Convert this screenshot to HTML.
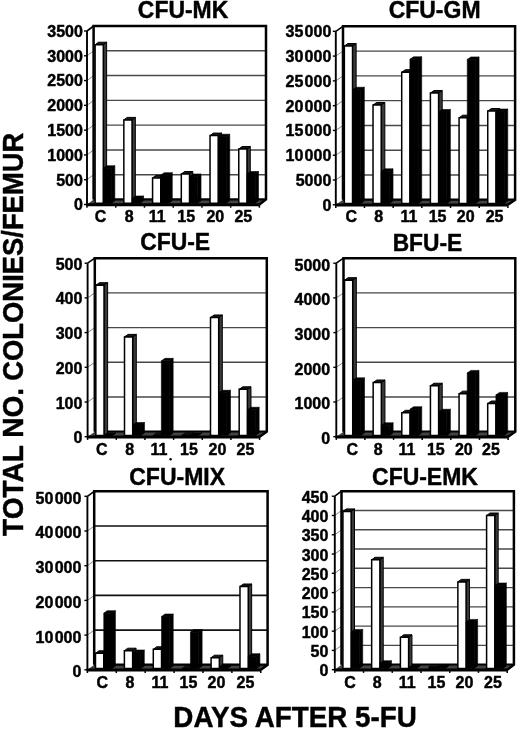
<!DOCTYPE html>
<html><head><meta charset="utf-8"><title>Figure</title>
<style>html,body{margin:0;padding:0;background:#fff;width:520px;height:729px;overflow:hidden}svg{display:block}</style>
</head><body>
<svg width="520" height="729" viewBox="0 0 520 729">
<style>
text{font-family:"Liberation Sans", Arial, Helvetica, sans-serif;font-weight:bold;fill:#000;stroke:#000;stroke-width:0.45px;stroke-linejoin:round}
.t{font-size:24px}
.l{font-size:16px}
.ax{font-size:29.3px}
</style>
<rect width="520" height="729" fill="#fff"/>
<g><text x="137.86" y="18.4" textLength="90.35" lengthAdjust="spacingAndGlyphs" class="t">CFU-MK</text><rect x="93.6" y="26" width="172.4" height="173.5" fill="#fff"/><line x1="93.6" y1="174.71" x2="266" y2="174.71" stroke="#484848" stroke-width="1.4"/><line x1="87" y1="179.71" x2="93.6" y2="174.71" stroke="#555" stroke-width="0.7"/><line x1="93.6" y1="149.93" x2="266" y2="149.93" stroke="#484848" stroke-width="1.4"/><line x1="87" y1="154.93" x2="93.6" y2="149.93" stroke="#555" stroke-width="0.7"/><line x1="93.6" y1="125.14" x2="266" y2="125.14" stroke="#484848" stroke-width="1.4"/><line x1="87" y1="130.14" x2="93.6" y2="125.14" stroke="#555" stroke-width="0.7"/><line x1="93.6" y1="100.36" x2="266" y2="100.36" stroke="#484848" stroke-width="1.4"/><line x1="87" y1="105.36" x2="93.6" y2="100.36" stroke="#555" stroke-width="0.7"/><line x1="93.6" y1="75.57" x2="266" y2="75.57" stroke="#484848" stroke-width="1.4"/><line x1="87" y1="80.57" x2="93.6" y2="75.57" stroke="#555" stroke-width="0.7"/><line x1="93.6" y1="50.79" x2="266" y2="50.79" stroke="#484848" stroke-width="1.4"/><line x1="87" y1="55.79" x2="93.6" y2="50.79" stroke="#555" stroke-width="0.7"/><line x1="87" y1="204.5" x2="87" y2="31" stroke="#000" stroke-width="1.9"/><line x1="87" y1="31" x2="93.6" y2="26" stroke="#000" stroke-width="1.6"/><polygon points="87,204.5 259.4,204.5 266,199.5 93.6,199.5" fill="#444"/><line x1="93.6" y1="199.3" x2="266" y2="199.3" stroke="#000" stroke-width="2.2"/><path d="M93.6,199.5 V26 H266 V199.5 L259.4,204.5" fill="none" stroke="#000" stroke-width="2.5" stroke-linejoin="miter"/><polygon points="103.32,203.25 106.62,200.75 106.62,42.22 103.32,44.72" fill="#3a3a3a" stroke="#000" stroke-width="1" stroke-linejoin="round"/><polygon points="95.11,44.72 103.32,44.72 106.62,42.22 98.41,42.22" fill="#181818" stroke="#000" stroke-width="1" stroke-linejoin="round"/><polygon points="95.11,203.25 103.32,203.25 103.32,44.72 95.11,44.72" fill="#fff" stroke="#000" stroke-width="1.5"/><polygon points="111.53,203.25 114.83,200.75 114.83,165.7 111.53,168.2" fill="#000" stroke="#000" stroke-width="0.6"/><polygon points="103.32,168.2 111.53,168.2 114.83,165.7 106.62,165.7" fill="#000" stroke="#000" stroke-width="0.6"/><polygon points="103.32,203.25 111.53,203.25 111.53,168.2 103.32,168.2" fill="#000" stroke="#000" stroke-width="0.6"/><polygon points="132.05,203.25 135.35,200.75 135.35,117.42 132.05,119.92" fill="#3a3a3a" stroke="#000" stroke-width="1" stroke-linejoin="round"/><polygon points="123.84,119.92 132.05,119.92 135.35,117.42 127.14,117.42" fill="#181818" stroke="#000" stroke-width="1" stroke-linejoin="round"/><polygon points="123.84,203.25 132.05,203.25 132.05,119.92 123.84,119.92" fill="#fff" stroke="#000" stroke-width="1.5"/><polygon points="140.26,203.25 143.56,200.75 143.56,195.99 140.26,198.49" fill="#000" stroke="#000" stroke-width="0.6"/><polygon points="132.05,198.49 140.26,198.49 143.56,195.99 135.35,195.99" fill="#000" stroke="#000" stroke-width="0.6"/><polygon points="132.05,203.25 140.26,203.25 140.26,198.49 132.05,198.49" fill="#000" stroke="#000" stroke-width="0.6"/><polygon points="160.78,203.25 164.08,200.75 164.08,175.42 160.78,177.92" fill="#3a3a3a" stroke="#000" stroke-width="1" stroke-linejoin="round"/><polygon points="152.57,177.92 160.78,177.92 164.08,175.42 155.87,175.42" fill="#181818" stroke="#000" stroke-width="1" stroke-linejoin="round"/><polygon points="152.57,203.25 160.78,203.25 160.78,177.92 152.57,177.92" fill="#fff" stroke="#000" stroke-width="1.5"/><polygon points="168.99,203.25 172.29,200.75 172.29,172.69 168.99,175.19" fill="#000" stroke="#000" stroke-width="0.6"/><polygon points="160.78,175.19 168.99,175.19 172.29,172.69 164.08,172.69" fill="#000" stroke="#000" stroke-width="0.6"/><polygon points="160.78,203.25 168.99,203.25 168.99,175.19 160.78,175.19" fill="#000" stroke="#000" stroke-width="0.6"/><polygon points="189.52,203.25 192.82,200.75 192.82,171.5 189.52,174" fill="#3a3a3a" stroke="#000" stroke-width="1" stroke-linejoin="round"/><polygon points="181.31,174 189.52,174 192.82,171.5 184.61,171.5" fill="#181818" stroke="#000" stroke-width="1" stroke-linejoin="round"/><polygon points="181.31,203.25 189.52,203.25 189.52,174 181.31,174" fill="#fff" stroke="#000" stroke-width="1.5"/><polygon points="197.73,203.25 201.03,200.75 201.03,173.98 197.73,176.48" fill="#000" stroke="#000" stroke-width="0.6"/><polygon points="189.52,176.48 197.73,176.48 201.03,173.98 192.82,173.98" fill="#000" stroke="#000" stroke-width="0.6"/><polygon points="189.52,203.25 197.73,203.25 197.73,176.48 189.52,176.48" fill="#000" stroke="#000" stroke-width="0.6"/><polygon points="218.25,203.25 221.55,200.75 221.55,133.08 218.25,135.58" fill="#3a3a3a" stroke="#000" stroke-width="1" stroke-linejoin="round"/><polygon points="210.04,135.58 218.25,135.58 221.55,133.08 213.34,133.08" fill="#181818" stroke="#000" stroke-width="1" stroke-linejoin="round"/><polygon points="210.04,203.25 218.25,203.25 218.25,135.58 210.04,135.58" fill="#fff" stroke="#000" stroke-width="1.5"/><polygon points="226.46,203.25 229.76,200.75 229.76,134.23 226.46,136.73" fill="#000" stroke="#000" stroke-width="0.6"/><polygon points="218.25,136.73 226.46,136.73 229.76,134.23 221.55,134.23" fill="#000" stroke="#000" stroke-width="0.6"/><polygon points="218.25,203.25 226.46,203.25 226.46,136.73 218.25,136.73" fill="#000" stroke="#000" stroke-width="0.6"/><polygon points="246.98,203.25 250.28,200.75 250.28,146.52 246.98,149.02" fill="#3a3a3a" stroke="#000" stroke-width="1" stroke-linejoin="round"/><polygon points="238.77,149.02 246.98,149.02 250.28,146.52 242.07,146.52" fill="#181818" stroke="#000" stroke-width="1" stroke-linejoin="round"/><polygon points="238.77,203.25 246.98,203.25 246.98,149.02 238.77,149.02" fill="#fff" stroke="#000" stroke-width="1.5"/><polygon points="255.19,203.25 258.49,200.75 258.49,171.5 255.19,174" fill="#000" stroke="#000" stroke-width="0.6"/><polygon points="246.98,174 255.19,174 258.49,171.5 250.28,171.5" fill="#000" stroke="#000" stroke-width="0.6"/><polygon points="246.98,203.25 255.19,203.25 255.19,174 246.98,174" fill="#000" stroke="#000" stroke-width="0.6"/><line x1="86.2" y1="204.7" x2="259.4" y2="204.7" stroke="#000" stroke-width="3.0"/><line x1="87" y1="204.5" x2="87" y2="207.7" stroke="#000" stroke-width="1.5"/><line x1="115.73" y1="204.5" x2="115.73" y2="207.7" stroke="#000" stroke-width="1.5"/><line x1="144.47" y1="204.5" x2="144.47" y2="207.7" stroke="#000" stroke-width="1.5"/><line x1="173.2" y1="204.5" x2="173.2" y2="207.7" stroke="#000" stroke-width="1.5"/><line x1="201.93" y1="204.5" x2="201.93" y2="207.7" stroke="#000" stroke-width="1.5"/><line x1="230.67" y1="204.5" x2="230.67" y2="207.7" stroke="#000" stroke-width="1.5"/><line x1="259.4" y1="204.5" x2="259.4" y2="207.7" stroke="#000" stroke-width="1.5"/><line x1="84" y1="204.5" x2="87" y2="204.5" stroke="#000" stroke-width="1.4"/><text x="82.9" y="210.3" text-anchor="end" class="l">0</text><line x1="84" y1="179.71" x2="87" y2="179.71" stroke="#000" stroke-width="1.4"/><text x="82.9" y="185.51" text-anchor="end" class="l">500</text><line x1="84" y1="154.93" x2="87" y2="154.93" stroke="#000" stroke-width="1.4"/><text x="82.9" y="160.73" text-anchor="end" class="l">1000</text><line x1="84" y1="130.14" x2="87" y2="130.14" stroke="#000" stroke-width="1.4"/><text x="82.9" y="135.94" text-anchor="end" class="l">1500</text><line x1="84" y1="105.36" x2="87" y2="105.36" stroke="#000" stroke-width="1.4"/><text x="82.9" y="111.16" text-anchor="end" class="l">2000</text><line x1="84" y1="80.57" x2="87" y2="80.57" stroke="#000" stroke-width="1.4"/><text x="82.9" y="86.37" text-anchor="end" class="l">2500</text><line x1="84" y1="55.79" x2="87" y2="55.79" stroke="#000" stroke-width="1.4"/><text x="82.9" y="61.59" text-anchor="end" class="l">3000</text><line x1="84" y1="31" x2="87" y2="31" stroke="#000" stroke-width="1.4"/><text x="82.9" y="36.8" text-anchor="end" class="l">3500</text><text x="100.5" y="222.3" text-anchor="middle" class="l">C</text><text x="129.1" y="222.3" text-anchor="middle" class="l">8</text><text x="157.3" y="222.3" text-anchor="middle" class="l">11</text><text x="186.2" y="222.3" text-anchor="middle" class="l">15</text><text x="215.3" y="222.3" text-anchor="middle" class="l">20</text><text x="243.3" y="222.3" text-anchor="middle" class="l">25</text></g><g><text x="388.66" y="18.4" textLength="91.88" lengthAdjust="spacingAndGlyphs" class="t">CFU-GM</text><rect x="343" y="26.3" width="172.1" height="173.5" fill="#fff"/><line x1="343" y1="175.01" x2="515.1" y2="175.01" stroke="#484848" stroke-width="1.4"/><line x1="335.8" y1="180.01" x2="343" y2="175.01" stroke="#555" stroke-width="0.7"/><line x1="343" y1="150.23" x2="515.1" y2="150.23" stroke="#484848" stroke-width="1.4"/><line x1="335.8" y1="155.23" x2="343" y2="150.23" stroke="#555" stroke-width="0.7"/><line x1="343" y1="125.44" x2="515.1" y2="125.44" stroke="#484848" stroke-width="1.4"/><line x1="335.8" y1="130.44" x2="343" y2="125.44" stroke="#555" stroke-width="0.7"/><line x1="343" y1="100.66" x2="515.1" y2="100.66" stroke="#484848" stroke-width="1.4"/><line x1="335.8" y1="105.66" x2="343" y2="100.66" stroke="#555" stroke-width="0.7"/><line x1="343" y1="75.87" x2="515.1" y2="75.87" stroke="#484848" stroke-width="1.4"/><line x1="335.8" y1="80.87" x2="343" y2="75.87" stroke="#555" stroke-width="0.7"/><line x1="343" y1="51.09" x2="515.1" y2="51.09" stroke="#484848" stroke-width="1.4"/><line x1="335.8" y1="56.09" x2="343" y2="51.09" stroke="#555" stroke-width="0.7"/><line x1="335.8" y1="204.8" x2="335.8" y2="31.3" stroke="#000" stroke-width="1.9"/><line x1="335.8" y1="31.3" x2="343" y2="26.3" stroke="#000" stroke-width="1.6"/><polygon points="335.8,204.8 507.9,204.8 515.1,199.8 343,199.8" fill="#444"/><line x1="343" y1="199.6" x2="515.1" y2="199.6" stroke="#000" stroke-width="2.2"/><path d="M343,199.8 V26.3 H515.1 V199.8 L507.9,204.8" fill="none" stroke="#000" stroke-width="2.5" stroke-linejoin="miter"/><polygon points="352.54,203.55 356.14,201.05 356.14,43.51 352.54,46.01" fill="#3a3a3a" stroke="#000" stroke-width="1" stroke-linejoin="round"/><polygon points="344.35,46.01 352.54,46.01 356.14,43.51 347.95,43.51" fill="#181818" stroke="#000" stroke-width="1" stroke-linejoin="round"/><polygon points="344.35,203.55 352.54,203.55 352.54,46.01 344.35,46.01" fill="#fff" stroke="#000" stroke-width="1.5"/><polygon points="360.74,203.55 364.34,201.05 364.34,87.28 360.74,89.78" fill="#000" stroke="#000" stroke-width="0.6"/><polygon points="352.54,89.78 360.74,89.78 364.34,87.28 356.14,87.28" fill="#000" stroke="#000" stroke-width="0.6"/><polygon points="352.54,203.55 360.74,203.55 360.74,89.78 352.54,89.78" fill="#000" stroke="#000" stroke-width="0.6"/><polygon points="381.23,203.55 384.83,201.05 384.83,102.5 381.23,105" fill="#3a3a3a" stroke="#000" stroke-width="1" stroke-linejoin="round"/><polygon points="373.03,105 381.23,105 384.83,102.5 376.63,102.5" fill="#181818" stroke="#000" stroke-width="1" stroke-linejoin="round"/><polygon points="373.03,203.55 381.23,203.55 381.23,105 373.03,105" fill="#fff" stroke="#000" stroke-width="1.5"/><polygon points="389.42,203.55 393.02,201.05 393.02,168.83 389.42,171.33" fill="#000" stroke="#000" stroke-width="0.6"/><polygon points="381.23,171.33 389.42,171.33 393.02,168.83 384.83,168.83" fill="#000" stroke="#000" stroke-width="0.6"/><polygon points="381.23,203.55 389.42,203.55 389.42,171.33 381.23,171.33" fill="#000" stroke="#000" stroke-width="0.6"/><polygon points="409.91,203.55 413.51,201.05 413.51,69.69 409.91,72.19" fill="#3a3a3a" stroke="#000" stroke-width="1" stroke-linejoin="round"/><polygon points="401.71,72.19 409.91,72.19 413.51,69.69 405.31,69.69" fill="#181818" stroke="#000" stroke-width="1" stroke-linejoin="round"/><polygon points="401.71,203.55 409.91,203.55 409.91,72.19 401.71,72.19" fill="#fff" stroke="#000" stroke-width="1.5"/><polygon points="418.1,203.55 421.7,201.05 421.7,56.8 418.1,59.3" fill="#000" stroke="#000" stroke-width="0.6"/><polygon points="409.91,59.3 418.1,59.3 421.7,56.8 413.51,56.8" fill="#000" stroke="#000" stroke-width="0.6"/><polygon points="409.91,203.55 418.1,203.55 418.1,59.3 409.91,59.3" fill="#000" stroke="#000" stroke-width="0.6"/><polygon points="438.59,203.55 442.19,201.05 442.19,90.51 438.59,93.01" fill="#3a3a3a" stroke="#000" stroke-width="1" stroke-linejoin="round"/><polygon points="430.4,93.01 438.59,93.01 442.19,90.51 434,90.51" fill="#181818" stroke="#000" stroke-width="1" stroke-linejoin="round"/><polygon points="430.4,203.55 438.59,203.55 438.59,93.01 430.4,93.01" fill="#fff" stroke="#000" stroke-width="1.5"/><polygon points="446.79,203.55 450.39,201.05 450.39,109.49 446.79,111.99" fill="#000" stroke="#000" stroke-width="0.6"/><polygon points="438.59,111.99 446.79,111.99 450.39,109.49 442.19,109.49" fill="#000" stroke="#000" stroke-width="0.6"/><polygon points="438.59,203.55 446.79,203.55 446.79,111.99 438.59,111.99" fill="#000" stroke="#000" stroke-width="0.6"/><polygon points="467.28,203.55 470.88,201.05 470.88,115.19 467.28,117.69" fill="#3a3a3a" stroke="#000" stroke-width="1" stroke-linejoin="round"/><polygon points="459.08,117.69 467.28,117.69 470.88,115.19 462.68,115.19" fill="#181818" stroke="#000" stroke-width="1" stroke-linejoin="round"/><polygon points="459.08,203.55 467.28,203.55 467.28,117.69 459.08,117.69" fill="#fff" stroke="#000" stroke-width="1.5"/><polygon points="475.47,203.55 479.07,201.05 479.07,56.95 475.47,59.45" fill="#000" stroke="#000" stroke-width="0.6"/><polygon points="467.28,59.45 475.47,59.45 479.07,56.95 470.88,56.95" fill="#000" stroke="#000" stroke-width="0.6"/><polygon points="467.28,203.55 475.47,203.55 475.47,59.45 467.28,59.45" fill="#000" stroke="#000" stroke-width="0.6"/><polygon points="495.96,203.55 499.56,201.05 499.56,108.5 495.96,111" fill="#3a3a3a" stroke="#000" stroke-width="1" stroke-linejoin="round"/><polygon points="487.76,111 495.96,111 499.56,108.5 491.36,108.5" fill="#181818" stroke="#000" stroke-width="1" stroke-linejoin="round"/><polygon points="487.76,203.55 495.96,203.55 495.96,111 487.76,111" fill="#fff" stroke="#000" stroke-width="1.5"/><polygon points="504.15,203.55 507.75,201.05 507.75,109 504.15,111.5" fill="#000" stroke="#000" stroke-width="0.6"/><polygon points="495.96,111.5 504.15,111.5 507.75,109 499.56,109" fill="#000" stroke="#000" stroke-width="0.6"/><polygon points="495.96,203.55 504.15,203.55 504.15,111.5 495.96,111.5" fill="#000" stroke="#000" stroke-width="0.6"/><line x1="335" y1="205" x2="507.9" y2="205" stroke="#000" stroke-width="3.0"/><line x1="335.8" y1="204.8" x2="335.8" y2="208" stroke="#000" stroke-width="1.5"/><line x1="364.48" y1="204.8" x2="364.48" y2="208" stroke="#000" stroke-width="1.5"/><line x1="393.17" y1="204.8" x2="393.17" y2="208" stroke="#000" stroke-width="1.5"/><line x1="421.85" y1="204.8" x2="421.85" y2="208" stroke="#000" stroke-width="1.5"/><line x1="450.53" y1="204.8" x2="450.53" y2="208" stroke="#000" stroke-width="1.5"/><line x1="479.22" y1="204.8" x2="479.22" y2="208" stroke="#000" stroke-width="1.5"/><line x1="507.9" y1="204.8" x2="507.9" y2="208" stroke="#000" stroke-width="1.5"/><line x1="332.8" y1="204.8" x2="335.8" y2="204.8" stroke="#000" stroke-width="1.4"/><text x="331.3" y="210.75" text-anchor="end" class="l">0</text><line x1="332.8" y1="180.01" x2="335.8" y2="180.01" stroke="#000" stroke-width="1.4"/><text x="331.3" y="185.96" text-anchor="end" class="l">5000</text><line x1="332.8" y1="155.23" x2="335.8" y2="155.23" stroke="#000" stroke-width="1.4"/><text x="331.3" y="161.18" text-anchor="end" class="l">10<tspan dx="1.3">000</tspan></text><line x1="332.8" y1="130.44" x2="335.8" y2="130.44" stroke="#000" stroke-width="1.4"/><text x="331.3" y="136.39" text-anchor="end" class="l">15<tspan dx="1.3">000</tspan></text><line x1="332.8" y1="105.66" x2="335.8" y2="105.66" stroke="#000" stroke-width="1.4"/><text x="331.3" y="111.61" text-anchor="end" class="l">20<tspan dx="1.3">000</tspan></text><line x1="332.8" y1="80.87" x2="335.8" y2="80.87" stroke="#000" stroke-width="1.4"/><text x="331.3" y="86.82" text-anchor="end" class="l">25<tspan dx="1.3">000</tspan></text><line x1="332.8" y1="56.09" x2="335.8" y2="56.09" stroke="#000" stroke-width="1.4"/><text x="331.3" y="62.04" text-anchor="end" class="l">30<tspan dx="1.3">000</tspan></text><line x1="332.8" y1="31.3" x2="335.8" y2="31.3" stroke="#000" stroke-width="1.4"/><text x="331.3" y="37.25" text-anchor="end" class="l">35<tspan dx="1.3">000</tspan></text><text x="351.2" y="222" text-anchor="middle" class="l">C</text><text x="378.7" y="222" text-anchor="middle" class="l">8</text><text x="409" y="222" text-anchor="middle" class="l">11</text><text x="437.6" y="222" text-anchor="middle" class="l">15</text><text x="465.7" y="222" text-anchor="middle" class="l">20</text><text x="494.6" y="222" text-anchor="middle" class="l">25</text></g><g><text x="140.16" y="250.4" textLength="69.93" lengthAdjust="spacingAndGlyphs" class="t">CFU-E</text><rect x="94.8" y="258.2" width="172" height="173.5" fill="#fff"/><line x1="94.8" y1="397" x2="266.8" y2="397" stroke="#484848" stroke-width="1.4"/><line x1="87.6" y1="402" x2="94.8" y2="397" stroke="#555" stroke-width="0.7"/><line x1="94.8" y1="362.3" x2="266.8" y2="362.3" stroke="#484848" stroke-width="1.4"/><line x1="87.6" y1="367.3" x2="94.8" y2="362.3" stroke="#555" stroke-width="0.7"/><line x1="94.8" y1="327.6" x2="266.8" y2="327.6" stroke="#484848" stroke-width="1.4"/><line x1="87.6" y1="332.6" x2="94.8" y2="327.6" stroke="#555" stroke-width="0.7"/><line x1="94.8" y1="292.9" x2="266.8" y2="292.9" stroke="#484848" stroke-width="1.4"/><line x1="87.6" y1="297.9" x2="94.8" y2="292.9" stroke="#555" stroke-width="0.7"/><line x1="87.6" y1="436.7" x2="87.6" y2="263.2" stroke="#000" stroke-width="1.9"/><line x1="87.6" y1="263.2" x2="94.8" y2="258.2" stroke="#000" stroke-width="1.6"/><polygon points="87.6,436.7 259.6,436.7 266.8,431.7 94.8,431.7" fill="#444"/><line x1="94.8" y1="431.5" x2="266.8" y2="431.5" stroke="#000" stroke-width="2.2"/><path d="M94.8,431.7 V258.2 H266.8 V431.7 L259.6,436.7" fill="none" stroke="#000" stroke-width="2.5" stroke-linejoin="miter"/><polygon points="104.03,435.45 107.63,432.95 107.63,282.7 104.03,285.2" fill="#3a3a3a" stroke="#000" stroke-width="1" stroke-linejoin="round"/><polygon points="95.84,285.2 104.03,285.2 107.63,282.7 99.44,282.7" fill="#181818" stroke="#000" stroke-width="1" stroke-linejoin="round"/><polygon points="95.84,435.45 104.03,435.45 104.03,285.2 95.84,285.2" fill="#fff" stroke="#000" stroke-width="1.5"/><polygon points="112.22,435.45 115.82,432.95 115.82,432.95 112.22,435.45" fill="#000" stroke="#000" stroke-width="0.6"/><polygon points="104.03,435.45 112.22,435.45 115.82,432.95 107.63,432.95" fill="#000" stroke="#000" stroke-width="0.6"/><polygon points="104.03,435.45 112.22,435.45 112.22,435.45 104.03,435.45" fill="#000" stroke="#000" stroke-width="0.6"/><polygon points="132.7,435.45 136.3,432.95 136.3,334.4 132.7,336.9" fill="#3a3a3a" stroke="#000" stroke-width="1" stroke-linejoin="round"/><polygon points="124.51,336.9 132.7,336.9 136.3,334.4 128.11,334.4" fill="#181818" stroke="#000" stroke-width="1" stroke-linejoin="round"/><polygon points="124.51,435.45 132.7,435.45 132.7,336.9 124.51,336.9" fill="#fff" stroke="#000" stroke-width="1.5"/><polygon points="140.89,435.45 144.49,432.95 144.49,422.54 140.89,425.04" fill="#000" stroke="#000" stroke-width="0.6"/><polygon points="132.7,425.04 140.89,425.04 144.49,422.54 136.3,422.54" fill="#000" stroke="#000" stroke-width="0.6"/><polygon points="132.7,435.45 140.89,435.45 140.89,425.04 132.7,425.04" fill="#000" stroke="#000" stroke-width="0.6"/><polygon points="161.37,435.45 164.97,432.95 164.97,432.95 161.37,435.45" fill="#3a3a3a" stroke="#000" stroke-width="1" stroke-linejoin="round"/><polygon points="153.18,435.45 161.37,435.45 164.97,432.95 156.78,432.95" fill="#181818" stroke="#000" stroke-width="1" stroke-linejoin="round"/><polygon points="153.18,435.45 161.37,435.45 161.37,435.45 153.18,435.45" fill="#fff" stroke="#000" stroke-width="1.5"/><polygon points="169.56,435.45 173.16,432.95 173.16,358.35 169.56,360.85" fill="#000" stroke="#000" stroke-width="0.6"/><polygon points="161.37,360.85 169.56,360.85 173.16,358.35 164.97,358.35" fill="#000" stroke="#000" stroke-width="0.6"/><polygon points="161.37,435.45 169.56,435.45 169.56,360.85 161.37,360.85" fill="#000" stroke="#000" stroke-width="0.6"/><polygon points="190.03,435.45 193.63,432.95 193.63,432.95 190.03,435.45" fill="#3a3a3a" stroke="#000" stroke-width="1" stroke-linejoin="round"/><polygon points="181.84,435.45 190.03,435.45 193.63,432.95 185.44,432.95" fill="#181818" stroke="#000" stroke-width="1" stroke-linejoin="round"/><polygon points="181.84,435.45 190.03,435.45 190.03,435.45 181.84,435.45" fill="#fff" stroke="#000" stroke-width="1.5"/><polygon points="198.22,435.45 201.82,432.95 201.82,432.95 198.22,435.45" fill="#000" stroke="#000" stroke-width="0.6"/><polygon points="190.03,435.45 198.22,435.45 201.82,432.95 193.63,432.95" fill="#000" stroke="#000" stroke-width="0.6"/><polygon points="190.03,435.45 198.22,435.45 198.22,435.45 190.03,435.45" fill="#000" stroke="#000" stroke-width="0.6"/><polygon points="218.7,435.45 222.3,432.95 222.3,314.97 218.7,317.47" fill="#3a3a3a" stroke="#000" stroke-width="1" stroke-linejoin="round"/><polygon points="210.51,317.47 218.7,317.47 222.3,314.97 214.11,314.97" fill="#181818" stroke="#000" stroke-width="1" stroke-linejoin="round"/><polygon points="210.51,435.45 218.7,435.45 218.7,317.47 210.51,317.47" fill="#fff" stroke="#000" stroke-width="1.5"/><polygon points="226.89,435.45 230.49,432.95 230.49,390.27 226.89,392.77" fill="#000" stroke="#000" stroke-width="0.6"/><polygon points="218.7,392.77 226.89,392.77 230.49,390.27 222.3,390.27" fill="#000" stroke="#000" stroke-width="0.6"/><polygon points="218.7,435.45 226.89,435.45 226.89,392.77 218.7,392.77" fill="#000" stroke="#000" stroke-width="0.6"/><polygon points="247.37,435.45 250.97,432.95 250.97,386.8 247.37,389.3" fill="#3a3a3a" stroke="#000" stroke-width="1" stroke-linejoin="round"/><polygon points="239.18,389.3 247.37,389.3 250.97,386.8 242.78,386.8" fill="#181818" stroke="#000" stroke-width="1" stroke-linejoin="round"/><polygon points="239.18,435.45 247.37,435.45 247.37,389.3 239.18,389.3" fill="#fff" stroke="#000" stroke-width="1.5"/><polygon points="255.56,435.45 259.16,432.95 259.16,407.27 255.56,409.77" fill="#000" stroke="#000" stroke-width="0.6"/><polygon points="247.37,409.77 255.56,409.77 259.16,407.27 250.97,407.27" fill="#000" stroke="#000" stroke-width="0.6"/><polygon points="247.37,435.45 255.56,435.45 255.56,409.77 247.37,409.77" fill="#000" stroke="#000" stroke-width="0.6"/><line x1="86.8" y1="436.9" x2="259.6" y2="436.9" stroke="#000" stroke-width="3.0"/><line x1="87.6" y1="436.7" x2="87.6" y2="439.9" stroke="#000" stroke-width="1.5"/><line x1="116.27" y1="436.7" x2="116.27" y2="439.9" stroke="#000" stroke-width="1.5"/><line x1="144.93" y1="436.7" x2="144.93" y2="439.9" stroke="#000" stroke-width="1.5"/><line x1="173.6" y1="436.7" x2="173.6" y2="439.9" stroke="#000" stroke-width="1.5"/><line x1="202.27" y1="436.7" x2="202.27" y2="439.9" stroke="#000" stroke-width="1.5"/><line x1="230.93" y1="436.7" x2="230.93" y2="439.9" stroke="#000" stroke-width="1.5"/><line x1="259.6" y1="436.7" x2="259.6" y2="439.9" stroke="#000" stroke-width="1.5"/><line x1="84.6" y1="436.7" x2="87.6" y2="436.7" stroke="#000" stroke-width="1.4"/><text x="82.4" y="443.2" text-anchor="end" class="l">0</text><line x1="84.6" y1="402" x2="87.6" y2="402" stroke="#000" stroke-width="1.4"/><text x="82.4" y="408.5" text-anchor="end" class="l">100</text><line x1="84.6" y1="367.3" x2="87.6" y2="367.3" stroke="#000" stroke-width="1.4"/><text x="82.4" y="373.8" text-anchor="end" class="l">200</text><line x1="84.6" y1="332.6" x2="87.6" y2="332.6" stroke="#000" stroke-width="1.4"/><text x="82.4" y="339.1" text-anchor="end" class="l">300</text><line x1="84.6" y1="297.9" x2="87.6" y2="297.9" stroke="#000" stroke-width="1.4"/><text x="82.4" y="304.4" text-anchor="end" class="l">400</text><line x1="84.6" y1="263.2" x2="87.6" y2="263.2" stroke="#000" stroke-width="1.4"/><text x="82.4" y="269.7" text-anchor="end" class="l">500</text><text x="101.7" y="454.7" text-anchor="middle" class="l">C</text><text x="129.6" y="454.7" text-anchor="middle" class="l">8</text><text x="159" y="454.7" text-anchor="middle" class="l">11</text><text x="188.9" y="454.7" text-anchor="middle" class="l">15</text><text x="217.4" y="454.7" text-anchor="middle" class="l">20</text><text x="245.5" y="454.7" text-anchor="middle" class="l">25</text></g><g><text x="392.68" y="251" textLength="69.51" lengthAdjust="spacingAndGlyphs" class="t">BFU-E</text><rect x="343.5" y="258.2" width="171.8" height="173.5" fill="#fff"/><line x1="343.5" y1="397" x2="515.3" y2="397" stroke="#484848" stroke-width="1.4"/><line x1="336.3" y1="402" x2="343.5" y2="397" stroke="#555" stroke-width="0.7"/><line x1="343.5" y1="362.3" x2="515.3" y2="362.3" stroke="#484848" stroke-width="1.4"/><line x1="336.3" y1="367.3" x2="343.5" y2="362.3" stroke="#555" stroke-width="0.7"/><line x1="343.5" y1="327.6" x2="515.3" y2="327.6" stroke="#484848" stroke-width="1.4"/><line x1="336.3" y1="332.6" x2="343.5" y2="327.6" stroke="#555" stroke-width="0.7"/><line x1="343.5" y1="292.9" x2="515.3" y2="292.9" stroke="#484848" stroke-width="1.4"/><line x1="336.3" y1="297.9" x2="343.5" y2="292.9" stroke="#555" stroke-width="0.7"/><line x1="336.3" y1="436.7" x2="336.3" y2="263.2" stroke="#000" stroke-width="1.9"/><line x1="336.3" y1="263.2" x2="343.5" y2="258.2" stroke="#000" stroke-width="1.6"/><polygon points="336.3,436.7 508.1,436.7 515.3,431.7 343.5,431.7" fill="#444"/><line x1="343.5" y1="431.5" x2="515.3" y2="431.5" stroke="#000" stroke-width="2.2"/><path d="M343.5,431.7 V258.2 H515.3 V431.7 L508.1,436.7" fill="none" stroke="#000" stroke-width="2.5" stroke-linejoin="miter"/><polygon points="352.72,435.45 356.32,432.95 356.32,277.67 352.72,280.17" fill="#3a3a3a" stroke="#000" stroke-width="1" stroke-linejoin="round"/><polygon points="344.54,280.17 352.72,280.17 356.32,277.67 348.14,277.67" fill="#181818" stroke="#000" stroke-width="1" stroke-linejoin="round"/><polygon points="344.54,435.45 352.72,435.45 352.72,280.17 344.54,280.17" fill="#fff" stroke="#000" stroke-width="1.5"/><polygon points="360.9,435.45 364.5,432.95 364.5,377.85 360.9,380.35" fill="#000" stroke="#000" stroke-width="0.6"/><polygon points="352.72,380.35 360.9,380.35 364.5,377.85 356.32,377.85" fill="#000" stroke="#000" stroke-width="0.6"/><polygon points="352.72,435.45 360.9,435.45 360.9,380.35 352.72,380.35" fill="#000" stroke="#000" stroke-width="0.6"/><polygon points="381.35,435.45 384.95,432.95 384.95,380.03 381.35,382.53" fill="#3a3a3a" stroke="#000" stroke-width="1" stroke-linejoin="round"/><polygon points="373.17,382.53 381.35,382.53 384.95,380.03 376.77,380.03" fill="#181818" stroke="#000" stroke-width="1" stroke-linejoin="round"/><polygon points="373.17,435.45 381.35,435.45 381.35,382.53 373.17,382.53" fill="#fff" stroke="#000" stroke-width="1.5"/><polygon points="389.53,435.45 393.13,432.95 393.13,422.82 389.53,425.32" fill="#000" stroke="#000" stroke-width="0.6"/><polygon points="381.35,425.32 389.53,425.32 393.13,422.82 384.95,422.82" fill="#000" stroke="#000" stroke-width="0.6"/><polygon points="381.35,435.45 389.53,435.45 389.53,425.32 381.35,425.32" fill="#000" stroke="#000" stroke-width="0.6"/><polygon points="409.98,435.45 413.58,432.95 413.58,410.33 409.98,412.83" fill="#3a3a3a" stroke="#000" stroke-width="1" stroke-linejoin="round"/><polygon points="401.8,412.83 409.98,412.83 413.58,410.33 405.4,410.33" fill="#181818" stroke="#000" stroke-width="1" stroke-linejoin="round"/><polygon points="401.8,435.45 409.98,435.45 409.98,412.83 401.8,412.83" fill="#fff" stroke="#000" stroke-width="1.5"/><polygon points="418.16,435.45 421.76,432.95 421.76,406.75 418.16,409.25" fill="#000" stroke="#000" stroke-width="0.6"/><polygon points="409.98,409.25 418.16,409.25 421.76,406.75 413.58,406.75" fill="#000" stroke="#000" stroke-width="0.6"/><polygon points="409.98,435.45 418.16,435.45 418.16,409.25 409.98,409.25" fill="#000" stroke="#000" stroke-width="0.6"/><polygon points="438.62,435.45 442.22,432.95 442.22,383.22 438.62,385.72" fill="#3a3a3a" stroke="#000" stroke-width="1" stroke-linejoin="round"/><polygon points="430.44,385.72 438.62,385.72 442.22,383.22 434.04,383.22" fill="#181818" stroke="#000" stroke-width="1" stroke-linejoin="round"/><polygon points="430.44,435.45 438.62,435.45 438.62,385.72 430.44,385.72" fill="#fff" stroke="#000" stroke-width="1.5"/><polygon points="446.8,435.45 450.4,432.95 450.4,409.25 446.8,411.75" fill="#000" stroke="#000" stroke-width="0.6"/><polygon points="438.62,411.75 446.8,411.75 450.4,409.25 442.22,409.25" fill="#000" stroke="#000" stroke-width="0.6"/><polygon points="438.62,435.45 446.8,435.45 446.8,411.75 438.62,411.75" fill="#000" stroke="#000" stroke-width="0.6"/><polygon points="467.25,435.45 470.85,432.95 470.85,391.14 467.25,393.64" fill="#3a3a3a" stroke="#000" stroke-width="1" stroke-linejoin="round"/><polygon points="459.07,393.64 467.25,393.64 470.85,391.14 462.67,391.14" fill="#181818" stroke="#000" stroke-width="1" stroke-linejoin="round"/><polygon points="459.07,435.45 467.25,435.45 467.25,393.64 459.07,393.64" fill="#fff" stroke="#000" stroke-width="1.5"/><polygon points="475.43,435.45 479.03,432.95 479.03,370.42 475.43,372.92" fill="#000" stroke="#000" stroke-width="0.6"/><polygon points="467.25,372.92 475.43,372.92 479.03,370.42 470.85,370.42" fill="#000" stroke="#000" stroke-width="0.6"/><polygon points="467.25,435.45 475.43,435.45 475.43,372.92 467.25,372.92" fill="#000" stroke="#000" stroke-width="0.6"/><polygon points="495.88,435.45 499.48,432.95 499.48,401.03 495.88,403.53" fill="#3a3a3a" stroke="#000" stroke-width="1" stroke-linejoin="round"/><polygon points="487.7,403.53 495.88,403.53 499.48,401.03 491.3,401.03" fill="#181818" stroke="#000" stroke-width="1" stroke-linejoin="round"/><polygon points="487.7,435.45 495.88,435.45 495.88,403.53 487.7,403.53" fill="#fff" stroke="#000" stroke-width="1.5"/><polygon points="504.06,435.45 507.66,432.95 507.66,392.42 504.06,394.92" fill="#000" stroke="#000" stroke-width="0.6"/><polygon points="495.88,394.92 504.06,394.92 507.66,392.42 499.48,392.42" fill="#000" stroke="#000" stroke-width="0.6"/><polygon points="495.88,435.45 504.06,435.45 504.06,394.92 495.88,394.92" fill="#000" stroke="#000" stroke-width="0.6"/><line x1="335.5" y1="436.9" x2="508.1" y2="436.9" stroke="#000" stroke-width="3.0"/><line x1="336.3" y1="436.7" x2="336.3" y2="439.9" stroke="#000" stroke-width="1.5"/><line x1="364.93" y1="436.7" x2="364.93" y2="439.9" stroke="#000" stroke-width="1.5"/><line x1="393.57" y1="436.7" x2="393.57" y2="439.9" stroke="#000" stroke-width="1.5"/><line x1="422.2" y1="436.7" x2="422.2" y2="439.9" stroke="#000" stroke-width="1.5"/><line x1="450.83" y1="436.7" x2="450.83" y2="439.9" stroke="#000" stroke-width="1.5"/><line x1="479.47" y1="436.7" x2="479.47" y2="439.9" stroke="#000" stroke-width="1.5"/><line x1="508.1" y1="436.7" x2="508.1" y2="439.9" stroke="#000" stroke-width="1.5"/><line x1="333.3" y1="436.7" x2="336.3" y2="436.7" stroke="#000" stroke-width="1.4"/><text x="330.1" y="444.05" text-anchor="end" class="l">0</text><line x1="333.3" y1="402" x2="336.3" y2="402" stroke="#000" stroke-width="1.4"/><text x="330.1" y="409.35" text-anchor="end" class="l">1000</text><line x1="333.3" y1="367.3" x2="336.3" y2="367.3" stroke="#000" stroke-width="1.4"/><text x="330.1" y="374.65" text-anchor="end" class="l">2000</text><line x1="333.3" y1="332.6" x2="336.3" y2="332.6" stroke="#000" stroke-width="1.4"/><text x="330.1" y="339.95" text-anchor="end" class="l">3000</text><line x1="333.3" y1="297.9" x2="336.3" y2="297.9" stroke="#000" stroke-width="1.4"/><text x="330.1" y="305.25" text-anchor="end" class="l">4000</text><line x1="333.3" y1="263.2" x2="336.3" y2="263.2" stroke="#000" stroke-width="1.4"/><text x="330.1" y="270.55" text-anchor="end" class="l">5000</text><text x="352.3" y="454.6" text-anchor="middle" class="l">C</text><text x="378.2" y="454.6" text-anchor="middle" class="l">8</text><text x="407" y="454.6" text-anchor="middle" class="l">11</text><text x="435.8" y="454.6" text-anchor="middle" class="l">15</text><text x="463.8" y="454.6" text-anchor="middle" class="l">20</text><text x="491" y="454.6" text-anchor="middle" class="l">25</text></g><g><text x="129.26" y="484.6" textLength="95.74" lengthAdjust="spacingAndGlyphs" class="t">CFU-MIX</text><rect x="94.2" y="491.3" width="173.4" height="173.5" fill="#fff"/><line x1="94.2" y1="630.1" x2="267.6" y2="630.1" stroke="#111" stroke-width="1.6"/><line x1="87.4" y1="635.1" x2="94.2" y2="630.1" stroke="#555" stroke-width="0.7"/><line x1="94.2" y1="595.4" x2="267.6" y2="595.4" stroke="#111" stroke-width="1.6"/><line x1="87.4" y1="600.4" x2="94.2" y2="595.4" stroke="#555" stroke-width="0.7"/><line x1="94.2" y1="560.7" x2="267.6" y2="560.7" stroke="#111" stroke-width="1.6"/><line x1="87.4" y1="565.7" x2="94.2" y2="560.7" stroke="#555" stroke-width="0.7"/><line x1="94.2" y1="526" x2="267.6" y2="526" stroke="#111" stroke-width="1.6"/><line x1="87.4" y1="531" x2="94.2" y2="526" stroke="#555" stroke-width="0.7"/><line x1="87.4" y1="669.8" x2="87.4" y2="496.3" stroke="#000" stroke-width="1.9"/><line x1="87.4" y1="496.3" x2="94.2" y2="491.3" stroke="#000" stroke-width="1.6"/><polygon points="87.4,669.8 260.8,669.8 267.6,664.8 94.2,664.8" fill="#444"/><line x1="94.2" y1="664.6" x2="267.6" y2="664.6" stroke="#000" stroke-width="2.2"/><path d="M94.2,664.8 V491.3 H267.6 V664.8 L260.8,669.8" fill="none" stroke="#000" stroke-width="2.5" stroke-linejoin="miter"/><polygon points="103.75,668.55 107.15,666.05 107.15,650.8 103.75,653.3" fill="#3a3a3a" stroke="#000" stroke-width="1" stroke-linejoin="round"/><polygon points="95.49,653.3 103.75,653.3 107.15,650.8 98.89,650.8" fill="#181818" stroke="#000" stroke-width="1" stroke-linejoin="round"/><polygon points="95.49,668.55 103.75,668.55 103.75,653.3 95.49,653.3" fill="#fff" stroke="#000" stroke-width="1.5"/><polygon points="112.01,668.55 115.41,666.05 115.41,610.7 112.01,613.2" fill="#000" stroke="#000" stroke-width="0.6"/><polygon points="103.75,613.2 112.01,613.2 115.41,610.7 107.15,610.7" fill="#000" stroke="#000" stroke-width="0.6"/><polygon points="103.75,668.55 112.01,668.55 112.01,613.2 103.75,613.2" fill="#000" stroke="#000" stroke-width="0.6"/><polygon points="132.65,668.55 136.05,666.05 136.05,648.19 132.65,650.69" fill="#3a3a3a" stroke="#000" stroke-width="1" stroke-linejoin="round"/><polygon points="124.39,650.69 132.65,650.69 136.05,648.19 127.79,648.19" fill="#181818" stroke="#000" stroke-width="1" stroke-linejoin="round"/><polygon points="124.39,668.55 132.65,668.55 132.65,650.69 124.39,650.69" fill="#fff" stroke="#000" stroke-width="1.5"/><polygon points="140.91,668.55 144.31,666.05 144.31,650 140.91,652.5" fill="#000" stroke="#000" stroke-width="0.6"/><polygon points="132.65,652.5 140.91,652.5 144.31,650 136.05,650" fill="#000" stroke="#000" stroke-width="0.6"/><polygon points="132.65,668.55 140.91,668.55 140.91,652.5 132.65,652.5" fill="#000" stroke="#000" stroke-width="0.6"/><polygon points="161.55,668.55 164.95,666.05 164.95,646.81 161.55,649.31" fill="#3a3a3a" stroke="#000" stroke-width="1" stroke-linejoin="round"/><polygon points="153.29,649.31 161.55,649.31 164.95,646.81 156.69,646.81" fill="#181818" stroke="#000" stroke-width="1" stroke-linejoin="round"/><polygon points="153.29,668.55 161.55,668.55 161.55,649.31 153.29,649.31" fill="#fff" stroke="#000" stroke-width="1.5"/><polygon points="169.81,668.55 173.21,666.05 173.21,614 169.81,616.5" fill="#000" stroke="#000" stroke-width="0.6"/><polygon points="161.55,616.5 169.81,616.5 173.21,614 164.95,614" fill="#000" stroke="#000" stroke-width="0.6"/><polygon points="161.55,668.55 169.81,668.55 169.81,616.5 161.55,616.5" fill="#000" stroke="#000" stroke-width="0.6"/><polygon points="190.45,668.55 193.85,666.05 193.85,666.05 190.45,668.55" fill="#3a3a3a" stroke="#000" stroke-width="1" stroke-linejoin="round"/><polygon points="182.19,668.55 190.45,668.55 193.85,666.05 185.59,666.05" fill="#181818" stroke="#000" stroke-width="1" stroke-linejoin="round"/><polygon points="182.19,668.55 190.45,668.55 190.45,668.55 182.19,668.55" fill="#fff" stroke="#000" stroke-width="1.5"/><polygon points="198.71,668.55 202.11,666.05 202.11,629.6 198.71,632.1" fill="#000" stroke="#000" stroke-width="0.6"/><polygon points="190.45,632.1 198.71,632.1 202.11,629.6 193.85,629.6" fill="#000" stroke="#000" stroke-width="0.6"/><polygon points="190.45,668.55 198.71,668.55 198.71,632.1 190.45,632.1" fill="#000" stroke="#000" stroke-width="0.6"/><polygon points="219.35,668.55 222.75,666.05 222.75,655.2 219.35,657.7" fill="#3a3a3a" stroke="#000" stroke-width="1" stroke-linejoin="round"/><polygon points="211.09,657.7 219.35,657.7 222.75,655.2 214.49,655.2" fill="#181818" stroke="#000" stroke-width="1" stroke-linejoin="round"/><polygon points="211.09,668.55 219.35,668.55 219.35,657.7 211.09,657.7" fill="#fff" stroke="#000" stroke-width="1.5"/><polygon points="227.61,668.55 231.01,666.05 231.01,664.31 227.61,666.81" fill="#000" stroke="#000" stroke-width="0.6"/><polygon points="219.35,666.81 227.61,666.81 231.01,664.31 222.75,664.31" fill="#000" stroke="#000" stroke-width="0.6"/><polygon points="219.35,668.55 227.61,668.55 227.61,666.81 219.35,666.81" fill="#000" stroke="#000" stroke-width="0.6"/><polygon points="248.25,668.55 251.65,666.05 251.65,584 248.25,586.5" fill="#3a3a3a" stroke="#000" stroke-width="1" stroke-linejoin="round"/><polygon points="239.99,586.5 248.25,586.5 251.65,584 243.39,584" fill="#181818" stroke="#000" stroke-width="1" stroke-linejoin="round"/><polygon points="239.99,668.55 248.25,668.55 248.25,586.5 239.99,586.5" fill="#fff" stroke="#000" stroke-width="1.5"/><polygon points="256.51,668.55 259.91,666.05 259.91,653.7 256.51,656.2" fill="#000" stroke="#000" stroke-width="0.6"/><polygon points="248.25,656.2 256.51,656.2 259.91,653.7 251.65,653.7" fill="#000" stroke="#000" stroke-width="0.6"/><polygon points="248.25,668.55 256.51,668.55 256.51,656.2 248.25,656.2" fill="#000" stroke="#000" stroke-width="0.6"/><line x1="86.6" y1="670" x2="260.8" y2="670" stroke="#000" stroke-width="3.0"/><line x1="87.4" y1="669.8" x2="87.4" y2="673" stroke="#000" stroke-width="1.5"/><line x1="116.3" y1="669.8" x2="116.3" y2="673" stroke="#000" stroke-width="1.5"/><line x1="145.2" y1="669.8" x2="145.2" y2="673" stroke="#000" stroke-width="1.5"/><line x1="174.1" y1="669.8" x2="174.1" y2="673" stroke="#000" stroke-width="1.5"/><line x1="203" y1="669.8" x2="203" y2="673" stroke="#000" stroke-width="1.5"/><line x1="231.9" y1="669.8" x2="231.9" y2="673" stroke="#000" stroke-width="1.5"/><line x1="260.8" y1="669.8" x2="260.8" y2="673" stroke="#000" stroke-width="1.5"/><line x1="84.4" y1="669.8" x2="87.4" y2="669.8" stroke="#000" stroke-width="1.4"/><text x="81.4" y="677.25" text-anchor="end" class="l">0</text><line x1="84.4" y1="635.1" x2="87.4" y2="635.1" stroke="#000" stroke-width="1.4"/><text x="81.4" y="642.55" text-anchor="end" class="l">10<tspan dx="1.3">000</tspan></text><line x1="84.4" y1="600.4" x2="87.4" y2="600.4" stroke="#000" stroke-width="1.4"/><text x="81.4" y="607.85" text-anchor="end" class="l">20<tspan dx="1.3">000</tspan></text><line x1="84.4" y1="565.7" x2="87.4" y2="565.7" stroke="#000" stroke-width="1.4"/><text x="81.4" y="573.15" text-anchor="end" class="l">30<tspan dx="1.3">000</tspan></text><line x1="84.4" y1="531" x2="87.4" y2="531" stroke="#000" stroke-width="1.4"/><text x="81.4" y="538.45" text-anchor="end" class="l">40<tspan dx="1.3">000</tspan></text><line x1="84.4" y1="496.3" x2="87.4" y2="496.3" stroke="#000" stroke-width="1.4"/><text x="81.4" y="503.75" text-anchor="end" class="l">50<tspan dx="1.3">000</tspan></text><text x="102.2" y="688" text-anchor="middle" class="l">C</text><text x="130" y="688" text-anchor="middle" class="l">8</text><text x="159.9" y="688" text-anchor="middle" class="l">11</text><text x="188.4" y="688" text-anchor="middle" class="l">15</text><text x="216.5" y="688" text-anchor="middle" class="l">20</text><text x="245.5" y="688" text-anchor="middle" class="l">25</text></g><g><text x="372.06" y="485.2" textLength="105.85" lengthAdjust="spacingAndGlyphs" class="t">CFU-EMK</text><rect x="341.5" y="491.2" width="172.4" height="173.5" fill="#fff"/><line x1="341.5" y1="645.42" x2="513.9" y2="645.42" stroke="#484848" stroke-width="1.4"/><line x1="334.8" y1="650.42" x2="341.5" y2="645.42" stroke="#555" stroke-width="0.7"/><line x1="341.5" y1="626.14" x2="513.9" y2="626.14" stroke="#484848" stroke-width="1.4"/><line x1="334.8" y1="631.14" x2="341.5" y2="626.14" stroke="#555" stroke-width="0.7"/><line x1="341.5" y1="606.87" x2="513.9" y2="606.87" stroke="#484848" stroke-width="1.4"/><line x1="334.8" y1="611.87" x2="341.5" y2="606.87" stroke="#555" stroke-width="0.7"/><line x1="341.5" y1="587.59" x2="513.9" y2="587.59" stroke="#484848" stroke-width="1.4"/><line x1="334.8" y1="592.59" x2="341.5" y2="587.59" stroke="#555" stroke-width="0.7"/><line x1="341.5" y1="568.31" x2="513.9" y2="568.31" stroke="#484848" stroke-width="1.4"/><line x1="334.8" y1="573.31" x2="341.5" y2="568.31" stroke="#555" stroke-width="0.7"/><line x1="341.5" y1="549.03" x2="513.9" y2="549.03" stroke="#484848" stroke-width="1.4"/><line x1="334.8" y1="554.03" x2="341.5" y2="549.03" stroke="#555" stroke-width="0.7"/><line x1="341.5" y1="529.76" x2="513.9" y2="529.76" stroke="#484848" stroke-width="1.4"/><line x1="334.8" y1="534.76" x2="341.5" y2="529.76" stroke="#555" stroke-width="0.7"/><line x1="341.5" y1="510.48" x2="513.9" y2="510.48" stroke="#484848" stroke-width="1.4"/><line x1="334.8" y1="515.48" x2="341.5" y2="510.48" stroke="#555" stroke-width="0.7"/><line x1="334.8" y1="669.7" x2="334.8" y2="496.2" stroke="#000" stroke-width="1.9"/><line x1="334.8" y1="496.2" x2="341.5" y2="491.2" stroke="#000" stroke-width="1.6"/><polygon points="334.8,669.7 507.2,669.7 513.9,664.7 341.5,664.7" fill="#444"/><line x1="341.5" y1="664.5" x2="513.9" y2="664.5" stroke="#000" stroke-width="2.2"/><path d="M341.5,664.7 V491.2 H513.9 V664.7 L507.2,669.7" fill="none" stroke="#000" stroke-width="2.5" stroke-linejoin="miter"/><polygon points="351.14,668.45 354.49,665.95 354.49,508.91 351.14,511.41" fill="#3a3a3a" stroke="#000" stroke-width="1" stroke-linejoin="round"/><polygon points="342.93,511.41 351.14,511.41 354.49,508.91 346.28,508.91" fill="#181818" stroke="#000" stroke-width="1" stroke-linejoin="round"/><polygon points="342.93,668.45 351.14,668.45 351.14,511.41 342.93,511.41" fill="#fff" stroke="#000" stroke-width="1.5"/><polygon points="359.35,668.45 362.7,665.95 362.7,629.4 359.35,631.9" fill="#000" stroke="#000" stroke-width="0.6"/><polygon points="351.14,631.9 359.35,631.9 362.7,629.4 354.49,629.4" fill="#000" stroke="#000" stroke-width="0.6"/><polygon points="351.14,668.45 359.35,668.45 359.35,631.9 351.14,631.9" fill="#000" stroke="#000" stroke-width="0.6"/><polygon points="379.88,668.45 383.23,665.95 383.23,557.3 379.88,559.8" fill="#3a3a3a" stroke="#000" stroke-width="1" stroke-linejoin="round"/><polygon points="371.67,559.8 379.88,559.8 383.23,557.3 375.02,557.3" fill="#181818" stroke="#000" stroke-width="1" stroke-linejoin="round"/><polygon points="371.67,668.45 379.88,668.45 379.88,559.8 371.67,559.8" fill="#fff" stroke="#000" stroke-width="1.5"/><polygon points="388.08,668.45 391.43,665.95 391.43,660.71 388.08,663.21" fill="#000" stroke="#000" stroke-width="0.6"/><polygon points="379.88,663.21 388.08,663.21 391.43,660.71 383.23,660.71" fill="#000" stroke="#000" stroke-width="0.6"/><polygon points="379.88,668.45 388.08,668.45 388.08,663.21 379.88,663.21" fill="#000" stroke="#000" stroke-width="0.6"/><polygon points="408.61,668.45 411.96,665.95 411.96,634.8 408.61,637.3" fill="#3a3a3a" stroke="#000" stroke-width="1" stroke-linejoin="round"/><polygon points="400.4,637.3 408.61,637.3 411.96,634.8 403.75,634.8" fill="#181818" stroke="#000" stroke-width="1" stroke-linejoin="round"/><polygon points="400.4,668.45 408.61,668.45 408.61,637.3 400.4,637.3" fill="#fff" stroke="#000" stroke-width="1.5"/><polygon points="416.82,668.45 420.17,665.95 420.17,665.18 416.82,667.68" fill="#000" stroke="#000" stroke-width="0.6"/><polygon points="408.61,667.68 416.82,667.68 420.17,665.18 411.96,665.18" fill="#000" stroke="#000" stroke-width="0.6"/><polygon points="408.61,668.45 416.82,668.45 416.82,667.68 408.61,667.68" fill="#000" stroke="#000" stroke-width="0.6"/><polygon points="437.34,668.45 440.69,665.95 440.69,664.79 437.34,667.29" fill="#3a3a3a" stroke="#000" stroke-width="1" stroke-linejoin="round"/><polygon points="429.13,667.29 437.34,667.29 440.69,664.79 432.48,664.79" fill="#181818" stroke="#000" stroke-width="1" stroke-linejoin="round"/><polygon points="429.13,668.45 437.34,668.45 437.34,667.29 429.13,667.29" fill="#fff" stroke="#000" stroke-width="1.5"/><polygon points="445.55,668.45 448.9,665.95 448.9,664.79 445.55,667.29" fill="#000" stroke="#000" stroke-width="0.6"/><polygon points="437.34,667.29 445.55,667.29 448.9,664.79 440.69,664.79" fill="#000" stroke="#000" stroke-width="0.6"/><polygon points="437.34,668.45 445.55,668.45 445.55,667.29 437.34,667.29" fill="#000" stroke="#000" stroke-width="0.6"/><polygon points="466.08,668.45 469.43,665.95 469.43,579.39 466.08,581.89" fill="#3a3a3a" stroke="#000" stroke-width="1" stroke-linejoin="round"/><polygon points="457.87,581.89 466.08,581.89 469.43,579.39 461.22,579.39" fill="#181818" stroke="#000" stroke-width="1" stroke-linejoin="round"/><polygon points="457.87,668.45 466.08,668.45 466.08,581.89 457.87,581.89" fill="#fff" stroke="#000" stroke-width="1.5"/><polygon points="474.28,668.45 477.63,665.95 477.63,619.41 474.28,621.91" fill="#000" stroke="#000" stroke-width="0.6"/><polygon points="466.08,621.91 474.28,621.91 477.63,619.41 469.43,619.41" fill="#000" stroke="#000" stroke-width="0.6"/><polygon points="466.08,668.45 474.28,668.45 474.28,621.91 466.08,621.91" fill="#000" stroke="#000" stroke-width="0.6"/><polygon points="494.81,668.45 498.16,665.95 498.16,513 494.81,515.5" fill="#3a3a3a" stroke="#000" stroke-width="1" stroke-linejoin="round"/><polygon points="486.6,515.5 494.81,515.5 498.16,513 489.95,513" fill="#181818" stroke="#000" stroke-width="1" stroke-linejoin="round"/><polygon points="486.6,668.45 494.81,668.45 494.81,515.5 486.6,515.5" fill="#fff" stroke="#000" stroke-width="1.5"/><polygon points="503.02,668.45 506.37,665.95 506.37,583.02 503.02,585.52" fill="#000" stroke="#000" stroke-width="0.6"/><polygon points="494.81,585.52 503.02,585.52 506.37,583.02 498.16,583.02" fill="#000" stroke="#000" stroke-width="0.6"/><polygon points="494.81,668.45 503.02,668.45 503.02,585.52 494.81,585.52" fill="#000" stroke="#000" stroke-width="0.6"/><line x1="334" y1="669.9" x2="507.2" y2="669.9" stroke="#000" stroke-width="3.0"/><line x1="334.8" y1="669.7" x2="334.8" y2="672.9" stroke="#000" stroke-width="1.5"/><line x1="363.53" y1="669.7" x2="363.53" y2="672.9" stroke="#000" stroke-width="1.5"/><line x1="392.27" y1="669.7" x2="392.27" y2="672.9" stroke="#000" stroke-width="1.5"/><line x1="421" y1="669.7" x2="421" y2="672.9" stroke="#000" stroke-width="1.5"/><line x1="449.73" y1="669.7" x2="449.73" y2="672.9" stroke="#000" stroke-width="1.5"/><line x1="478.47" y1="669.7" x2="478.47" y2="672.9" stroke="#000" stroke-width="1.5"/><line x1="507.2" y1="669.7" x2="507.2" y2="672.9" stroke="#000" stroke-width="1.5"/><line x1="331.8" y1="669.7" x2="334.8" y2="669.7" stroke="#000" stroke-width="1.4"/><text x="328.4" y="676.25" text-anchor="end" class="l">0</text><line x1="331.8" y1="650.42" x2="334.8" y2="650.42" stroke="#000" stroke-width="1.4"/><text x="328.4" y="656.97" text-anchor="end" class="l">50</text><line x1="331.8" y1="631.14" x2="334.8" y2="631.14" stroke="#000" stroke-width="1.4"/><text x="328.4" y="637.69" text-anchor="end" class="l">100</text><line x1="331.8" y1="611.87" x2="334.8" y2="611.87" stroke="#000" stroke-width="1.4"/><text x="328.4" y="618.42" text-anchor="end" class="l">150</text><line x1="331.8" y1="592.59" x2="334.8" y2="592.59" stroke="#000" stroke-width="1.4"/><text x="328.4" y="599.14" text-anchor="end" class="l">200</text><line x1="331.8" y1="573.31" x2="334.8" y2="573.31" stroke="#000" stroke-width="1.4"/><text x="328.4" y="579.86" text-anchor="end" class="l">250</text><line x1="331.8" y1="554.03" x2="334.8" y2="554.03" stroke="#000" stroke-width="1.4"/><text x="328.4" y="560.58" text-anchor="end" class="l">300</text><line x1="331.8" y1="534.76" x2="334.8" y2="534.76" stroke="#000" stroke-width="1.4"/><text x="328.4" y="541.31" text-anchor="end" class="l">350</text><line x1="331.8" y1="515.48" x2="334.8" y2="515.48" stroke="#000" stroke-width="1.4"/><text x="328.4" y="522.03" text-anchor="end" class="l">400</text><line x1="331.8" y1="496.2" x2="334.8" y2="496.2" stroke="#000" stroke-width="1.4"/><text x="328.4" y="502.75" text-anchor="end" class="l">450</text><text x="350" y="687.7" text-anchor="middle" class="l">C</text><text x="377.1" y="687.7" text-anchor="middle" class="l">8</text><text x="407.2" y="687.7" text-anchor="middle" class="l">11</text><text x="436.4" y="687.7" text-anchor="middle" class="l">15</text><text x="464.5" y="687.7" text-anchor="middle" class="l">20</text><text x="493" y="687.7" text-anchor="middle" class="l">25</text></g>
<text class="ax" transform="translate(23,535.7) rotate(-90)" x="-0.31" y="0" textLength="148.1" lengthAdjust="spacingAndGlyphs">TOTAL NO.</text>
<text class="ax" transform="translate(23,535.7) rotate(-90)" x="154.98" y="0" textLength="247.98" lengthAdjust="spacingAndGlyphs">COLONIES/FEMUR</text>
<text class="ax" x="173.37" y="727.1" textLength="243.4" lengthAdjust="spacingAndGlyphs">DAYS AFTER 5-FU</text>
<circle cx="170.6" cy="459.2" r="1.2" fill="#000"/>
</svg>
</body></html>
